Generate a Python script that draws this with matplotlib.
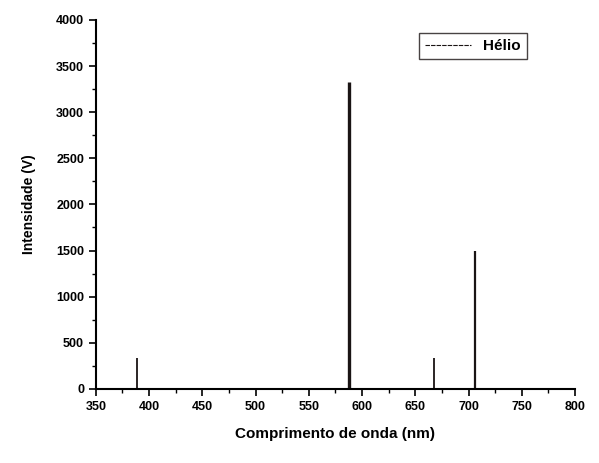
import matplotlib.pyplot as plt
import numpy as np
from matplotlib.ticker import MultipleLocator

# Helium emission lines
wavelength = [388.9, 587.6, 667.8, 706.5]
intensity = [340, 3330, 330, 1490]
line_width = [1.3, 2.4, 1.3, 1.6]

plt.rcParams['font.family'] = ['Liberation Sans', 'DejaVu Sans']
plt.rcParams['font.weight'] = 'bold'

fig = plt.figure(figsize=(5.99, 4.63), dpi=100)
ax = fig.add_axes([0.16, 0.16, 0.80, 0.797])

for w, h, lw in zip(wavelength, intensity, line_width):
    ax.vlines(w, 0, h, color='#1a1414', linewidth=lw)
ax.plot([], [], color='#1a1414', linewidth=0.8, linestyle=(0, (4, 1)), label='Hélio')

ax.set_xlim(350, 800)
ax.set_ylim(0, 4000)
ax.xaxis.set_major_locator(MultipleLocator(50))
ax.xaxis.set_minor_locator(MultipleLocator(25))
ax.yaxis.set_major_locator(MultipleLocator(500))
ax.yaxis.set_minor_locator(MultipleLocator(250))
ax.tick_params(which='major', direction='out', length=5, width=1.2, labelsize=9)
ax.tick_params(which='minor', direction='out', length=3, width=1.0)
ax.spines['top'].set_visible(False)
ax.spines['right'].set_visible(False)
ax.spines['left'].set_linewidth(1.5)
ax.spines['bottom'].set_linewidth(1.5)

ax.set_xlabel('Comprimento de onda (nm)', fontsize=11, fontweight='bold', labelpad=10)
ax.set_ylabel('Intensidade (V)', fontsize=10, fontweight='bold', labelpad=14)

leg = ax.legend(loc='upper right', bbox_to_anchor=(0.915, 0.985), fontsize=11,
                fancybox=False, edgecolor='#1a1414', handlelength=3)
leg.get_frame().set_linewidth(1.0)

fig.savefig('out.png', dpi=100)
